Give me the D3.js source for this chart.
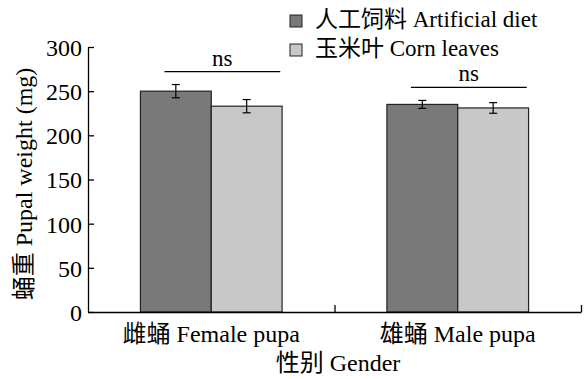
<!DOCTYPE html>
<html>
<head>
<meta charset="utf-8">
<script src="https://cdn.jsdelivr.net/npm/d3@7"></script>
<style>
  body { margin: 0; background: #fff; }
  text { font-family: "Liberation Serif", "Times New Roman", "Noto Sans CJK SC", serif; fill: #000; }
</style>
</head>
<body>
<svg id="svg" width="584" height="379"></svg>
<script>
var groups = ["雌蛹 Female pupa", "雄蛹 Male pupa"];
var series = ["人工饲料 Artificial diet", "玉米叶 Corn leaves"];
var artificialMean = [250, 235];
var artificialErr = [7.5, 4.5];
var cornMean = [233, 231];
var cornErr = [7.5, 6];
var signif = ["ns", "ns"];
var yTicks = [0, 50, 100, 150, 200, 250, 300];
var colors = ["#797979", "#c8c8c8"];

window.onload = function() {
    var svg = d3.select("#svg");
    var left = 88, right = 581, top = 47, bottom = 312;
    var fs = "24px";

    var data = [];
    groups.forEach(function(g, i) {
        data.push({group: g, s: series[0], mean: artificialMean[i], err: artificialErr[i]});
        data.push({group: g, s: series[1], mean: cornMean[i], err: cornErr[i]});
    });

    var y = d3.scaleLinear().domain([0, 300]).range([bottom, top]);
    var x0 = d3.scaleBand().domain(groups).range([left, right]).padding(0);
    var x1 = d3.scaleBand().domain(series).range([0, x0.bandwidth()])
        .paddingInner(0).paddingOuter(0.74);
    var color = d3.scaleOrdinal().domain(series).range(colors);

    // bars
    svg.selectAll("rect.bar")
        .data(data)
        .enter().append("rect")
        .attr("class", "bar")
        .attr("x", function(d) { return x0(d.group) + x1(d.s); })
        .attr("y", function(d) { return y(d.mean); })
        .attr("width", x1.bandwidth())
        .attr("height", function(d) { return y(0) - y(d.mean); })
        .attr("fill", function(d) { return color(d.s); })
        .attr("stroke", "#222")
        .attr("stroke-width", 1.2);

    // error bars
    var eb = svg.selectAll("g.err").data(data).enter().append("g")
        .attr("transform", function(d) { return "translate(" + (x0(d.group) + x1(d.s) + x1.bandwidth() / 2) + ",0)"; });
    eb.append("line").attr("x1", 0).attr("x2", 0)
        .attr("y1", function(d) { return y(d.mean + d.err); })
        .attr("y2", function(d) { return y(d.mean - d.err); })
        .attr("stroke", "#000").attr("stroke-width", 1.2);
    [1, -1].forEach(function(sg) {
        eb.append("line").attr("x1", -4).attr("x2", 4)
            .attr("y1", function(d) { return y(d.mean + sg * d.err); })
            .attr("y2", function(d) { return y(d.mean + sg * d.err); })
            .attr("stroke", "#000").attr("stroke-width", 1.2);
    });

    // axes
    var yAxis = d3.axisLeft(y).tickValues(yTicks).tickSize(-6).tickPadding(6).tickSizeOuter(0);
    var gy = svg.append("g").attr("transform", "translate(" + left + ",0)").call(yAxis);
    gy.selectAll("text").style("font-size", fs).attr("dy", "0.35em");

    var xAxis = d3.axisBottom(d3.scaleLinear().domain([0, 2]).range([left, right]))
        .tickValues([1, 2]).tickSize(-7).tickFormat("").tickSizeOuter(0);
    svg.append("g").attr("transform", "translate(0," + bottom + ")").call(xAxis);
    svg.selectAll(".domain, .tick line").attr("stroke", "#000").attr("stroke-width", 1.3);

    // category labels
    svg.selectAll("text.cat").data(groups).enter().append("text")
        .attr("x", function(d) { return x0(d) + x0.bandwidth() / 2; })
        .attr("y", 342)
        .attr("text-anchor", "middle")
        .style("font-size", fs)
        .text(function(d) { return d; });

    svg.append("text").attr("x", 338).attr("y", 371)
        .attr("text-anchor", "middle").style("font-size", fs)
        .text("性别 Gender");

    svg.append("text")
        .attr("transform", "translate(32,184) rotate(-90)")
        .attr("text-anchor", "middle").style("font-size", fs)
        .text("蛹重 Pupal weight (mg)");

    // significance
    groups.forEach(function(g, i) {
        var top_ = Math.max(artificialMean[i] + artificialErr[i], cornMean[i] + cornErr[i]);
        var ly = y(top_) - 13;
        var xa = x0(g) + x0.bandwidth() * 0.31, xb = x0(g) + x0.bandwidth() * 0.78;
        svg.append("line").attr("x1", xa).attr("x2", xb).attr("y1", ly).attr("y2", ly)
            .attr("stroke", "#000").attr("stroke-width", 1.2);
        svg.append("text").attr("x", (xa + xb) / 2).attr("y", ly - 6)
            .attr("text-anchor", "middle").style("font-size", "23px").text(signif[i]);
    });

    // legend
    var lg = svg.selectAll("g.leg").data(series).enter().append("g")
        .attr("transform", function(d, i) { return "translate(290," + (15 + i * 29) + ")"; });
    lg.append("rect").attr("width", 12).attr("height", 12)
        .attr("fill", function(d) { return color(d); })
        .attr("stroke", "#222").attr("stroke-width", 1);
    lg.append("text").attr("x", 25).attr("y", 12)
        .style("font-size", "23px").text(function(d) { return d; });
};
</script>
</body>
</html>
